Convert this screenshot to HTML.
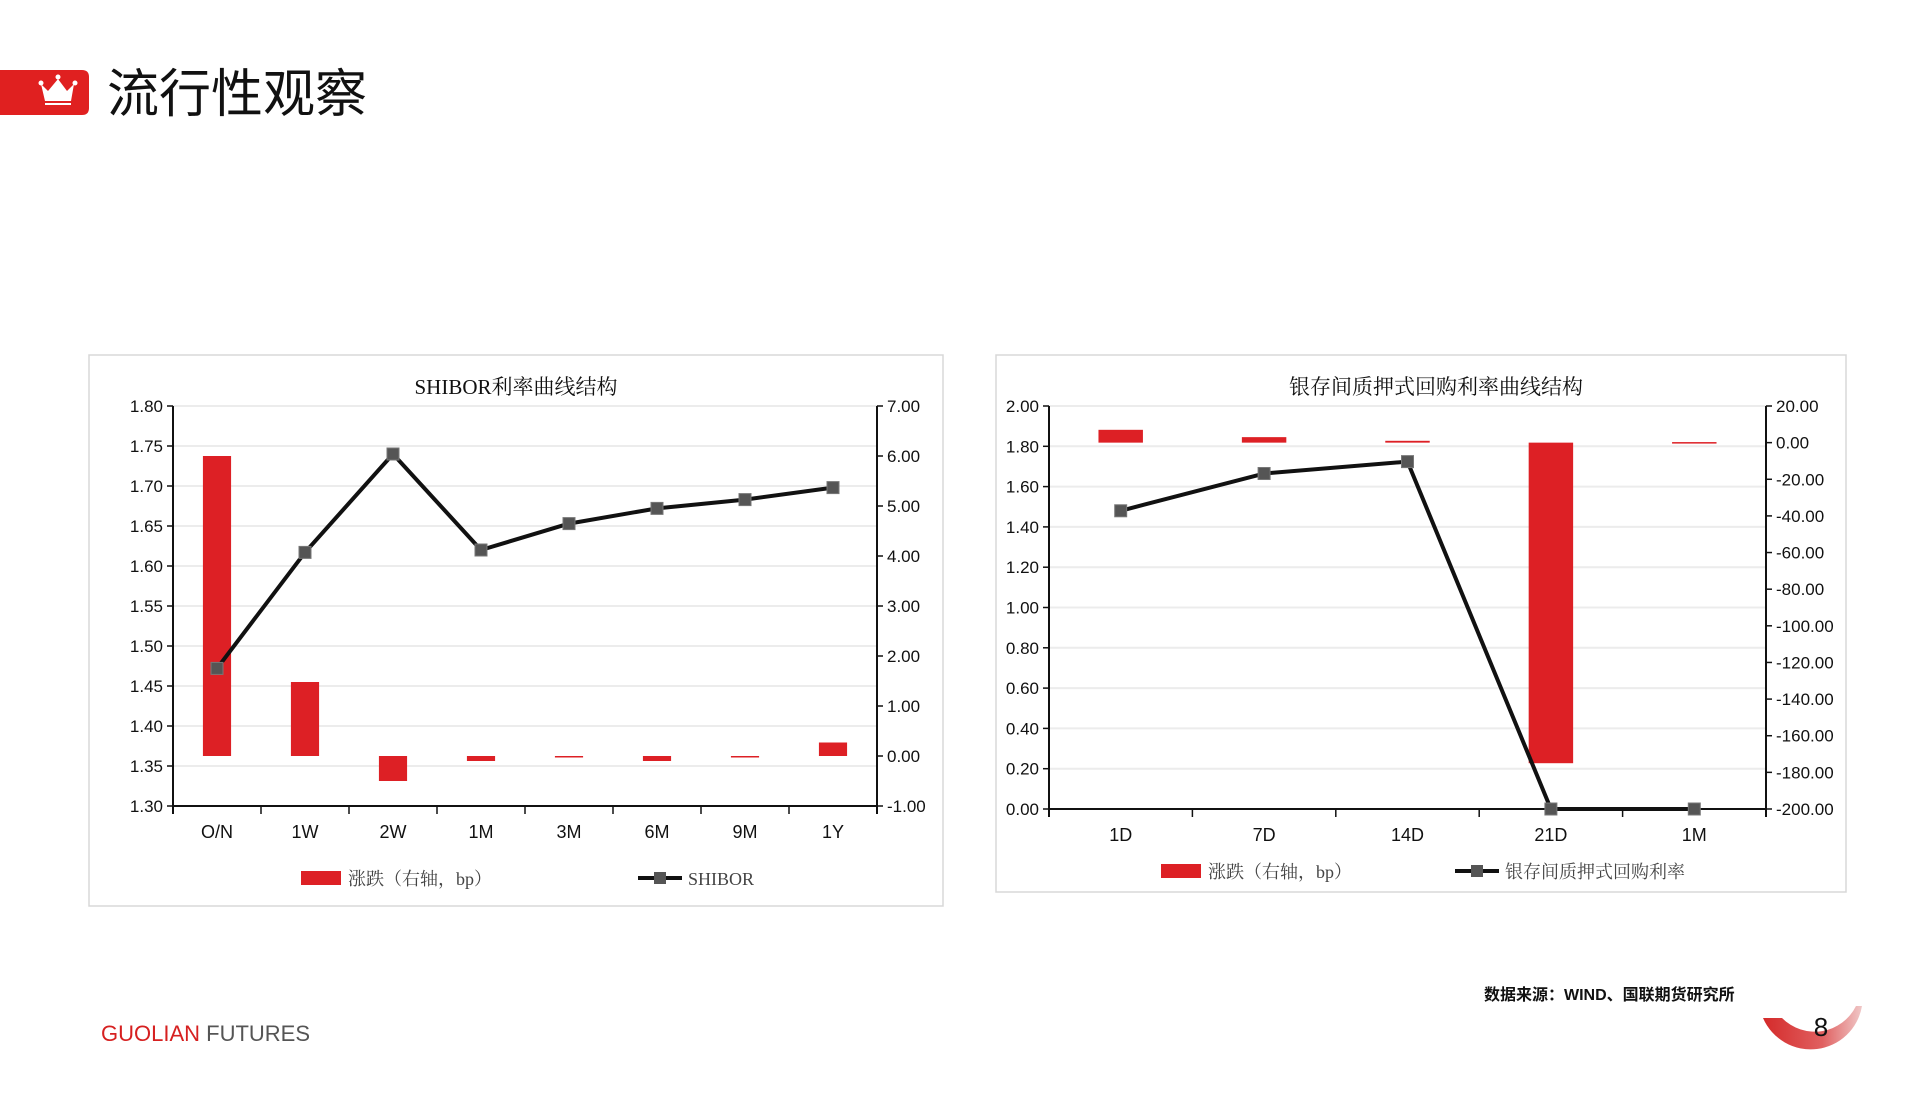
<!DOCTYPE html>
<html><head><meta charset="utf-8">
<style>
html,body{margin:0;padding:0;background:#fff;}
body{width:1919px;height:1114px;overflow:hidden;position:relative;font-family:"Liberation Sans","Noto Sans CJK SC",sans-serif;}
svg text{font-family:"Liberation Sans","Noto Sans CJK SC",sans-serif;}
.serif{font-family:"Liberation Serif","Noto Serif CJK SC",serif !important;}
</style></head>
<body>
<svg id="page" width="1919" height="1114" viewBox="0 0 1919 1114" xmlns="http://www.w3.org/2000/svg">
  <g>
    <path d="M0 70 H82 Q89 70 89 77 V108 Q89 115 82 115 H0 Z" fill="#e02020"/>
    <g fill="#fff">
      <path d="M41 84 L48 91 L58 79 L67 91 L74 84 L71 101 L45 101 Z"/>
      <circle cx="41" cy="83" r="2.5"/><circle cx="58" cy="77" r="2.5"/><circle cx="75" cy="83" r="2.5"/>
      <rect x="45" y="103" width="26" height="2"/>
    </g>
    <text x="107" y="112" font-size="52" fill="#111">流行性观察</text>
  </g>

  <g id="chart1"></g>
  <g id="chart2"></g>

  <text x="1484" y="1000" font-size="16" font-weight="bold" fill="#111">数据来源：WIND、国联期货研究所</text>
  <text x="101" y="1041" font-size="22" fill="#d62020">GUOLIAN <tspan fill="#555">FUTURES</tspan></text>
  <g>
    <defs>
      <linearGradient id="arcg" x1="0" x2="1" y1="0" y2="0">
        <stop offset="0" stop-color="#d42a2a"/><stop offset="0.6" stop-color="#e06060"/><stop offset="1" stop-color="#f0c8c8"/>
      </linearGradient>
    </defs>
    <path d="M1763 1018 A52 52 0 0 0 1862 1006 L1856 1006 A46 46 0 0 1 1782 1018 Z" fill="url(#arcg)"/>
    <text x="1821" y="1036" font-size="26" text-anchor="middle" fill="#111">8</text>
  </g>
</svg>

<script>
// ---- Chart 1 data ----
const c1Categories = ["O/N","1W","2W","1M","3M","6M","9M","1Y"];
const c1Shibor = [1.472,1.617,1.740,1.620,1.653,1.672,1.683,1.698];
const c1Change = [6.0,1.48,-0.5,-0.1,-0.02,-0.1,-0.02,0.27];
const c1LeftTicks = [1.30,1.35,1.40,1.45,1.50,1.55,1.60,1.65,1.70,1.75,1.80];
const c1RightTicks = [-1,0,1,2,3,4,5,6,7];

// ---- Chart 2 data ----
const c2Categories = ["1D","7D","14D","21D","1M"];
const c2Repo = [1.48,1.665,1.724,0.0,0.0];
const c2Change = [7,3,1,-175,0.3];
const c2LeftTicks = [0,0.2,0.4,0.6,0.8,1.0,1.2,1.4,1.6,1.8,2.0];
const c2RightTicks = [-200,-180,-160,-140,-120,-100,-80,-60,-40,-20,0,20];

const NS = "http://www.w3.org/2000/svg";
function mk(parent, tag, attrs, text){
  const e = document.createElementNS(NS, tag);
  for (const k in attrs) e.setAttribute(k, attrs[k]);
  if (text !== undefined) e.textContent = text;
  parent.appendChild(e);
  return e;
}

function drawChart(g, o){
  const box = mk(g,"rect",{x:o.bx,y:o.by,width:o.bw,height:o.bh,fill:"#fff",stroke:"#d8d8d8","stroke-width":1.5});
  
  
  const title = mk(g,"text",{x:o.tx,y:o.ty,"font-size":21,"text-anchor":"middle",fill:"#111",class:"serif"},o.title);
  
  

  const L=o.L,R=o.R,T=o.T,B=o.B;
  const yL = v => B - (v - o.lMin)/(o.lMax - o.lMin)*(B-T);
  const yR = v => B - (v - o.rMin)/(o.rMax - o.rMin)*(B-T);
  const n = o.cats.length, step = (R-L)/n;
  const xC = i => L + step*(i+0.5);

  o.lTicks.forEach(v=>{
    const y=yL(v);
    if (v!==o.lMin){
      const gl=mk(g,"line",{x1:L,x2:R,y1:y,y2:y,stroke:"#ececec","stroke-width":2});
      
      
    }
    mk(g,"line",{x1:L-6,x2:L,y1:y,y2:y,stroke:"#111","stroke-width":1.5});
    const t=mk(g,"text",{x:L-10,y:y+6,"font-size":17,"text-anchor":"end",fill:"#111"},v.toFixed(2));
    
    
  });
  o.rTicks.forEach(v=>{
    const y=yR(v);
    mk(g,"line",{x1:R,x2:R+6,y1:y,y2:y,stroke:"#111","stroke-width":1.5});
    const t=mk(g,"text",{x:R+10,y:y+6,"font-size":17,fill:"#111"},v.toFixed(2));
    
    
  });
  const la=mk(g,"line",{x1:L,x2:L,y1:T,y2:B+8,stroke:"#111","stroke-width":2});
  
  
  const ra=mk(g,"line",{x1:R,x2:R,y1:T,y2:B+8,stroke:"#111","stroke-width":2});
  
  
  const xa=mk(g,"line",{x1:L,x2:R,y1:B,y2:B,stroke:"#111","stroke-width":2});
  
  
  for(let i=0;i<=n;i++){ mk(g,"line",{x1:L+step*i,x2:L+step*i,y1:B,y2:B+8,stroke:"#111","stroke-width":1.5}); }
  o.cats.forEach((c,i)=>{
    const t=mk(g,"text",{x:xC(i),y:o.catY,"font-size":18,"text-anchor":"middle",fill:"#111"},c);
    
    
  });
  const bw = step*o.barFrac;
  o.bars.forEach((v,i)=>{
    const y0=yR(0), y1=yR(v);
    const h=Math.max(Math.abs(y1-y0),1.5);
    const b=mk(g,"rect",{x:xC(i)-bw/2,y:Math.min(y0,y1),width:bw,height:h,fill:"#dd2025"});
    
    
  });
  const pts=o.line.map((v,i)=>xC(i)+","+yL(v)).join(" ");
  const pl=mk(g,"polyline",{points:pts,fill:"none",stroke:"#111","stroke-width":4,"stroke-linejoin":"round"});
  
  
  o.line.forEach((v,i)=>{
    const m=mk(g,"rect",{x:xC(i)-6,y:yL(v)-6,width:12,height:12,fill:"#555",stroke:"#777","stroke-width":1});
    
    
  });
  const lg=mk(g,"g",{});
  
  
  const lb=mk(lg,"rect",{x:o.lgx,y:o.lgy-7,width:40,height:14,fill:"#dd2025"});
  
  
  const lt=mk(lg,"text",{x:o.lgx+47,y:o.lgy+7,"font-size":18,fill:"#444",class:"serif"},"涨跌（右轴，bp）");
  
  
  mk(lg,"line",{x1:o.lg2x,x2:o.lg2x+44,y1:o.lgy,y2:o.lgy,stroke:"#111","stroke-width":4});
  const lm=mk(lg,"rect",{x:o.lg2x+16,y:o.lgy-6,width:12,height:12,fill:"#555"});
  
  
  const lt2=mk(lg,"text",{x:o.lg2x+50,y:o.lgy+7,"font-size":18,fill:"#444",class:"serif"},o.lineName);
  
  
}

drawChart(document.getElementById("chart1"),{
  bx:89,by:355,bw:854,bh:551,tx:516,ty:394,title:"SHIBOR利率曲线结构",
  L:173,R:877,T:406,B:806,lMin:1.30,lMax:1.80,rMin:-1,rMax:7,
  lTicks:c1LeftTicks,rTicks:c1RightTicks,cats:c1Categories,catY:838,
  bars:c1Change,line:c1Shibor,barFrac:0.32,
  lgx:301,lgy:878,lg2x:638,lineName:"SHIBOR"
});
drawChart(document.getElementById("chart2"),{
  bx:996,by:355,bw:850,bh:537,tx:1436,ty:394,title:"银存间质押式回购利率曲线结构",
  L:1049,R:1766,T:406,B:809,lMin:0,lMax:2,rMin:-200,rMax:20,
  lTicks:c2LeftTicks,rTicks:c2RightTicks,cats:c2Categories,catY:841,
  bars:c2Change,line:c2Repo,barFrac:0.31,
  lgx:1161,lgy:871,lg2x:1455,lineName:"银存间质押式回购利率"
});
</script>
</body></html>
